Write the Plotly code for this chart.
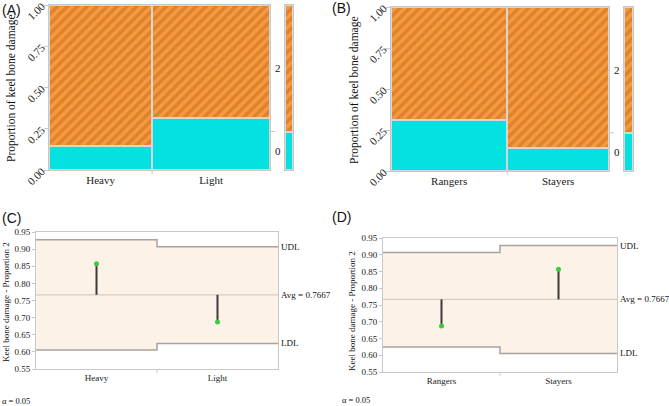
import plotly.graph_objects as go

W, H = 669, 406

# ---------------- data ----------------
weight_groups = ["Heavy", "Light"]
weight_share = [0.4667, 0.5333]          # column widths (share of hens)
weight_prop0 = [0.143, 0.3125]            # proportion keel damage score 0
weight_prop2 = [0.857, 0.6875]            # proportion keel damage score 2

range_groups = ["Rangers", "Stayers"]
range_share = [0.5333, 0.4667]
range_prop0 = [0.3125, 0.143]
range_prop2 = [0.6875, 0.857]

overall_prop0 = 0.2333
overall_prop2 = 0.7667

weight_udl = [0.9275, 0.907]
weight_ldl = [0.6055, 0.6245]
range_udl = [0.907, 0.9275]
range_ldl = [0.6245, 0.6055]
avg_value = 0.7667

mosaic_ticks = [0.0, 0.25, 0.5, 0.75, 1.0]
anom_ticks = [0.55, 0.6, 0.65, 0.7, 0.75, 0.8, 0.85, 0.9, 0.95]

# ---------------- styles ----------------
CYAN = "#05E0E0"
ORANGE = "#F69A3C"
ORANGE_D = "#C46A22"
EDGE = "#D6D6D6"
FRAME = "#C8C8C8"
PEACH = "#FDF2E8"
LIMIT = "#A8A29E"
SERIF = "Liberation Serif, Times New Roman, DejaVu Serif, serif"
SANS = "Liberation Sans, Arial, sans-serif"


def px(x):
    return x / W


def py(y):
    return 1 - y / H


fig = go.Figure()


def centers(shares):
    c, acc = [], 0
    for s in shares:
        c.append(acc + s / 2)
        acc += s
    return c


PATTERN = dict(shape="/", fgcolor=ORANGE_D, size=7, solidity=0.5)


def add_mosaic(xa, ya, shares, p0, p2):
    cx = centers(shares)
    fig.add_trace(go.Bar(x=cx, y=p0, width=shares, xaxis=xa, yaxis=ya,
                         marker=dict(color=CYAN, line=dict(color=EDGE, width=2)),
                         showlegend=False, hoverinfo="skip"))
    fig.add_trace(go.Bar(x=cx, y=p2, width=shares, xaxis=xa, yaxis=ya,
                         marker=dict(color=ORANGE, line=dict(color=EDGE, width=2),
                                     pattern=PATTERN),
                         showlegend=False, hoverinfo="skip"))


def add_margin(xa, ya):
    fig.add_trace(go.Bar(x=[0.5], y=[overall_prop0], width=[1], xaxis=xa, yaxis=ya,
                         marker=dict(color=CYAN, line=dict(color=EDGE, width=2)),
                         showlegend=False, hoverinfo="skip"))
    fig.add_trace(go.Bar(x=[0.5], y=[overall_prop2], width=[1], xaxis=xa, yaxis=ya,
                         marker=dict(color=ORANGE, line=dict(color=EDGE, width=2),
                                     pattern=PATTERN),
                         showlegend=False, hoverinfo="skip"))


add_mosaic("x", "y", weight_share, weight_prop0, weight_prop2)
add_margin("x2", "y2")
add_mosaic("x3", "y3", range_share, range_prop0, range_prop2)
add_margin("x4", "y4")


def add_anom(xa, ya, udl, ldl, props):
    fig.add_trace(go.Scatter(x=[0, 1, 1, 2], y=[ldl[0], ldl[0], ldl[1], ldl[1]],
                             xaxis=xa, yaxis=ya, mode="lines",
                             line=dict(color=LIMIT, width=1.5),
                             showlegend=False, hoverinfo="skip"))
    fig.add_trace(go.Scatter(x=[0, 1, 1, 2], y=[udl[0], udl[0], udl[1], udl[1]],
                             xaxis=xa, yaxis=ya, mode="lines", fill="tonexty",
                             fillcolor=PEACH, line=dict(color=LIMIT, width=1.5),
                             showlegend=False, hoverinfo="skip"))
    fig.add_trace(go.Scatter(x=[0, 2], y=[avg_value, avg_value], xaxis=xa, yaxis=ya,
                             mode="lines", line=dict(color="#D8CCC2", width=1.2),
                             showlegend=False, hoverinfo="skip"))
    for i, p in enumerate(props):
        fig.add_trace(go.Scatter(x=[i + 0.5, i + 0.5], y=[avg_value, p], xaxis=xa, yaxis=ya,
                                 mode="lines", line=dict(color="#3A3A3A", width=2),
                                 showlegend=False, hoverinfo="skip"))
    fig.add_trace(go.Scatter(x=[0.5, 1.5], y=props, xaxis=xa, yaxis=ya, mode="markers",
                             marker=dict(color="#3DCB3D", size=5),
                             showlegend=False, hoverinfo="skip"))


add_anom("x5", "y5", weight_udl, weight_ldl, weight_prop2)
add_anom("x6", "y6", range_udl, range_ldl, range_prop2)

# ---------------- axes ----------------
tickfont = dict(family=SERIF, size=11, color="#222")
smallfont = dict(family=SERIF, size=9, color="#222")
dom = {
    "A": ([px(49), px(270)], [py(170), py(5)]),
    "Am": ([px(285), px(293)], [py(170), py(5)]),
    "B": ([px(391), px(609)], [py(171), py(7)]),
    "Bm": ([px(624), px(633)], [py(171), py(7)]),
    "C": ([px(36), px(278)], [py(369), py(232)]),
    "D": ([px(383), px(617)], [py(372), py(238)]),
}
common = dict(showline=True, mirror=True, linecolor=FRAME, linewidth=1, showgrid=False,
              zeroline=False, automargin=False, fixedrange=True, ticklabeloverflow="allow")


def mosaic_axes(n, key, groups, shares):
    xd, yd = dom[key]
    s = "" if n == 1 else str(n)
    fig.update_layout(**{
        f"xaxis{s}": dict(domain=xd, anchor=f"y{s}", range=[0, 1], tickvals=centers(shares),
                          ticktext=groups, ticks="", tickfont=tickfont, **common),
        f"yaxis{s}": dict(domain=yd, anchor=f"x{s}", range=[0, 1], tickvals=mosaic_ticks,
                          tickformat=".2f", tickangle=-45, ticks="outside", ticklen=4,
                          tickcolor=FRAME, tickfont=tickfont, **common),
    })


def margin_axes(n, key):
    xd, yd = dom[key]
    fig.update_layout(**{
        f"xaxis{n}": dict(domain=xd, anchor=f"y{n}", range=[0, 1], showticklabels=False,
                          ticks="", **common),
        f"yaxis{n}": dict(domain=yd, anchor=f"x{n}", range=[0, 1], showticklabels=False,
                          ticks="", **common),
    })


def anom_axes(n, key, groups):
    xd, yd = dom[key]
    fig.update_layout(**{
        f"xaxis{n}": dict(domain=xd, anchor=f"y{n}", range=[0, 2], tickvals=[0.5, 1.5],
                          ticktext=groups, ticks="", tickfont=smallfont, **common),
        f"yaxis{n}": dict(domain=yd, anchor=f"x{n}", range=[0.55, 0.95], tickvals=anom_ticks,
                          tickformat=".2f", ticks="outside", ticklen=3, tickcolor=FRAME,
                          tickfont=smallfont, **common),
    })


mosaic_axes(1, "A", weight_groups, weight_share)
margin_axes(2, "Am")
mosaic_axes(3, "B", range_groups, range_share)
margin_axes(4, "Bm")
anom_axes(5, "C", weight_groups)
anom_axes(6, "D", range_groups)

# ---------------- annotations ----------------
ann = []


def label(x, y, text, size=14, family=SANS, angle=0, xanchor="left", yanchor="middle",
          xref="paper", yref="paper"):
    ann.append(dict(x=x, y=y, xref=xref, yref=yref, text=text, showarrow=False,
                    font=dict(family=family, size=size, color="#111"), textangle=angle,
                    xanchor=xanchor, yanchor=yanchor))


label(px(0), py(10), "(A)")
label(px(330), py(8), "(B)")
label(px(0), py(218), "(C)")
label(px(330), py(217), "(D)")

label(px(12), py(88), "Proportion of keel bone damage", size=11.5, family=SERIF, angle=-90,
      xanchor="center")
label(px(354), py(90), "Proportion of keel bone damage", size=11.5, family=SERIF, angle=-90,
      xanchor="center")
label(px(6), py(302), "Keel bone damage - Proportion 2", size=9, family=SERIF, angle=-90,
      xanchor="center")
label(px(352), py(311), "Keel bone damage - Proportion 2", size=9, family=SERIF, angle=-90,
      xanchor="center")

# category labels at the marginal split
mid2 = overall_prop0 + overall_prop2 / 2
mid0 = overall_prop0 / 2
label(px(273), mid2, "2", size=11, family=SERIF, yref="y")
label(px(273), mid0, "0", size=11, family=SERIF, yref="y")
label(px(612), mid2, "2", size=11, family=SERIF, yref="y3")
label(px(612), mid0, "0", size=11, family=SERIF, yref="y3")

# ANOM limit labels
label(px(279), weight_udl[1], "UDL", size=9, family=SERIF, yref="y5")
label(px(279), avg_value, "Avg = 0.7667", size=9, family=SERIF, yref="y5")
label(px(279), weight_ldl[1], "LDL", size=9, family=SERIF, yref="y5")
label(px(618), range_udl[1], "UDL", size=9, family=SERIF, yref="y6")
label(px(618), avg_value, "Avg = 0.7667", size=9, family=SERIF, yref="y6")
label(px(618), range_ldl[1], "LDL", size=9, family=SERIF, yref="y6")

label(px(0), py(401), "α = 0.05", size=8.5, family=SERIF)
label(px(340), py(400), "α = 0.05", size=8.5, family=SERIF)

shapes = []
# tiny ticks: split of categories
for xr, yr, ax_x in [("x", "y", weight_share[0]), ("x3", "y3", range_share[0])]:
    shapes.append(dict(type="line", xref=xr, yref=f"{yr} domain", x0=ax_x, x1=ax_x,
                       y0=0, y1=-0.025, line=dict(color=FRAME, width=1)))
for xr, yr in [("x5", "y5"), ("x6", "y6")]:
    shapes.append(dict(type="line", xref=xr, yref=f"{yr} domain", x0=1, x1=1,
                       y0=0, y1=-0.03, line=dict(color=FRAME, width=1)))
# right side tick at marginal split
shapes.append(dict(type="line", xref="paper", yref="y", x0=px(271), x1=px(275),
                   y0=overall_prop0, y1=overall_prop0, line=dict(color=FRAME, width=1)))
shapes.append(dict(type="line", xref="paper", yref="y3", x0=px(610), x1=px(614),
                   y0=overall_prop0, y1=overall_prop0, line=dict(color=FRAME, width=1)))

fig.update_layout(width=W, height=H, margin=dict(l=0, r=0, t=0, b=0, autoexpand=False),
                  paper_bgcolor="white", plot_bgcolor="white", barmode="stack",
                  bargap=0, annotations=ann, shapes=shapes, showlegend=False)

fig.write_html("out.html", config={"displayModeBar": False, "staticPlot": True},
               post_script="document.body.style.margin='0';document.body.style.overflow='hidden';")
